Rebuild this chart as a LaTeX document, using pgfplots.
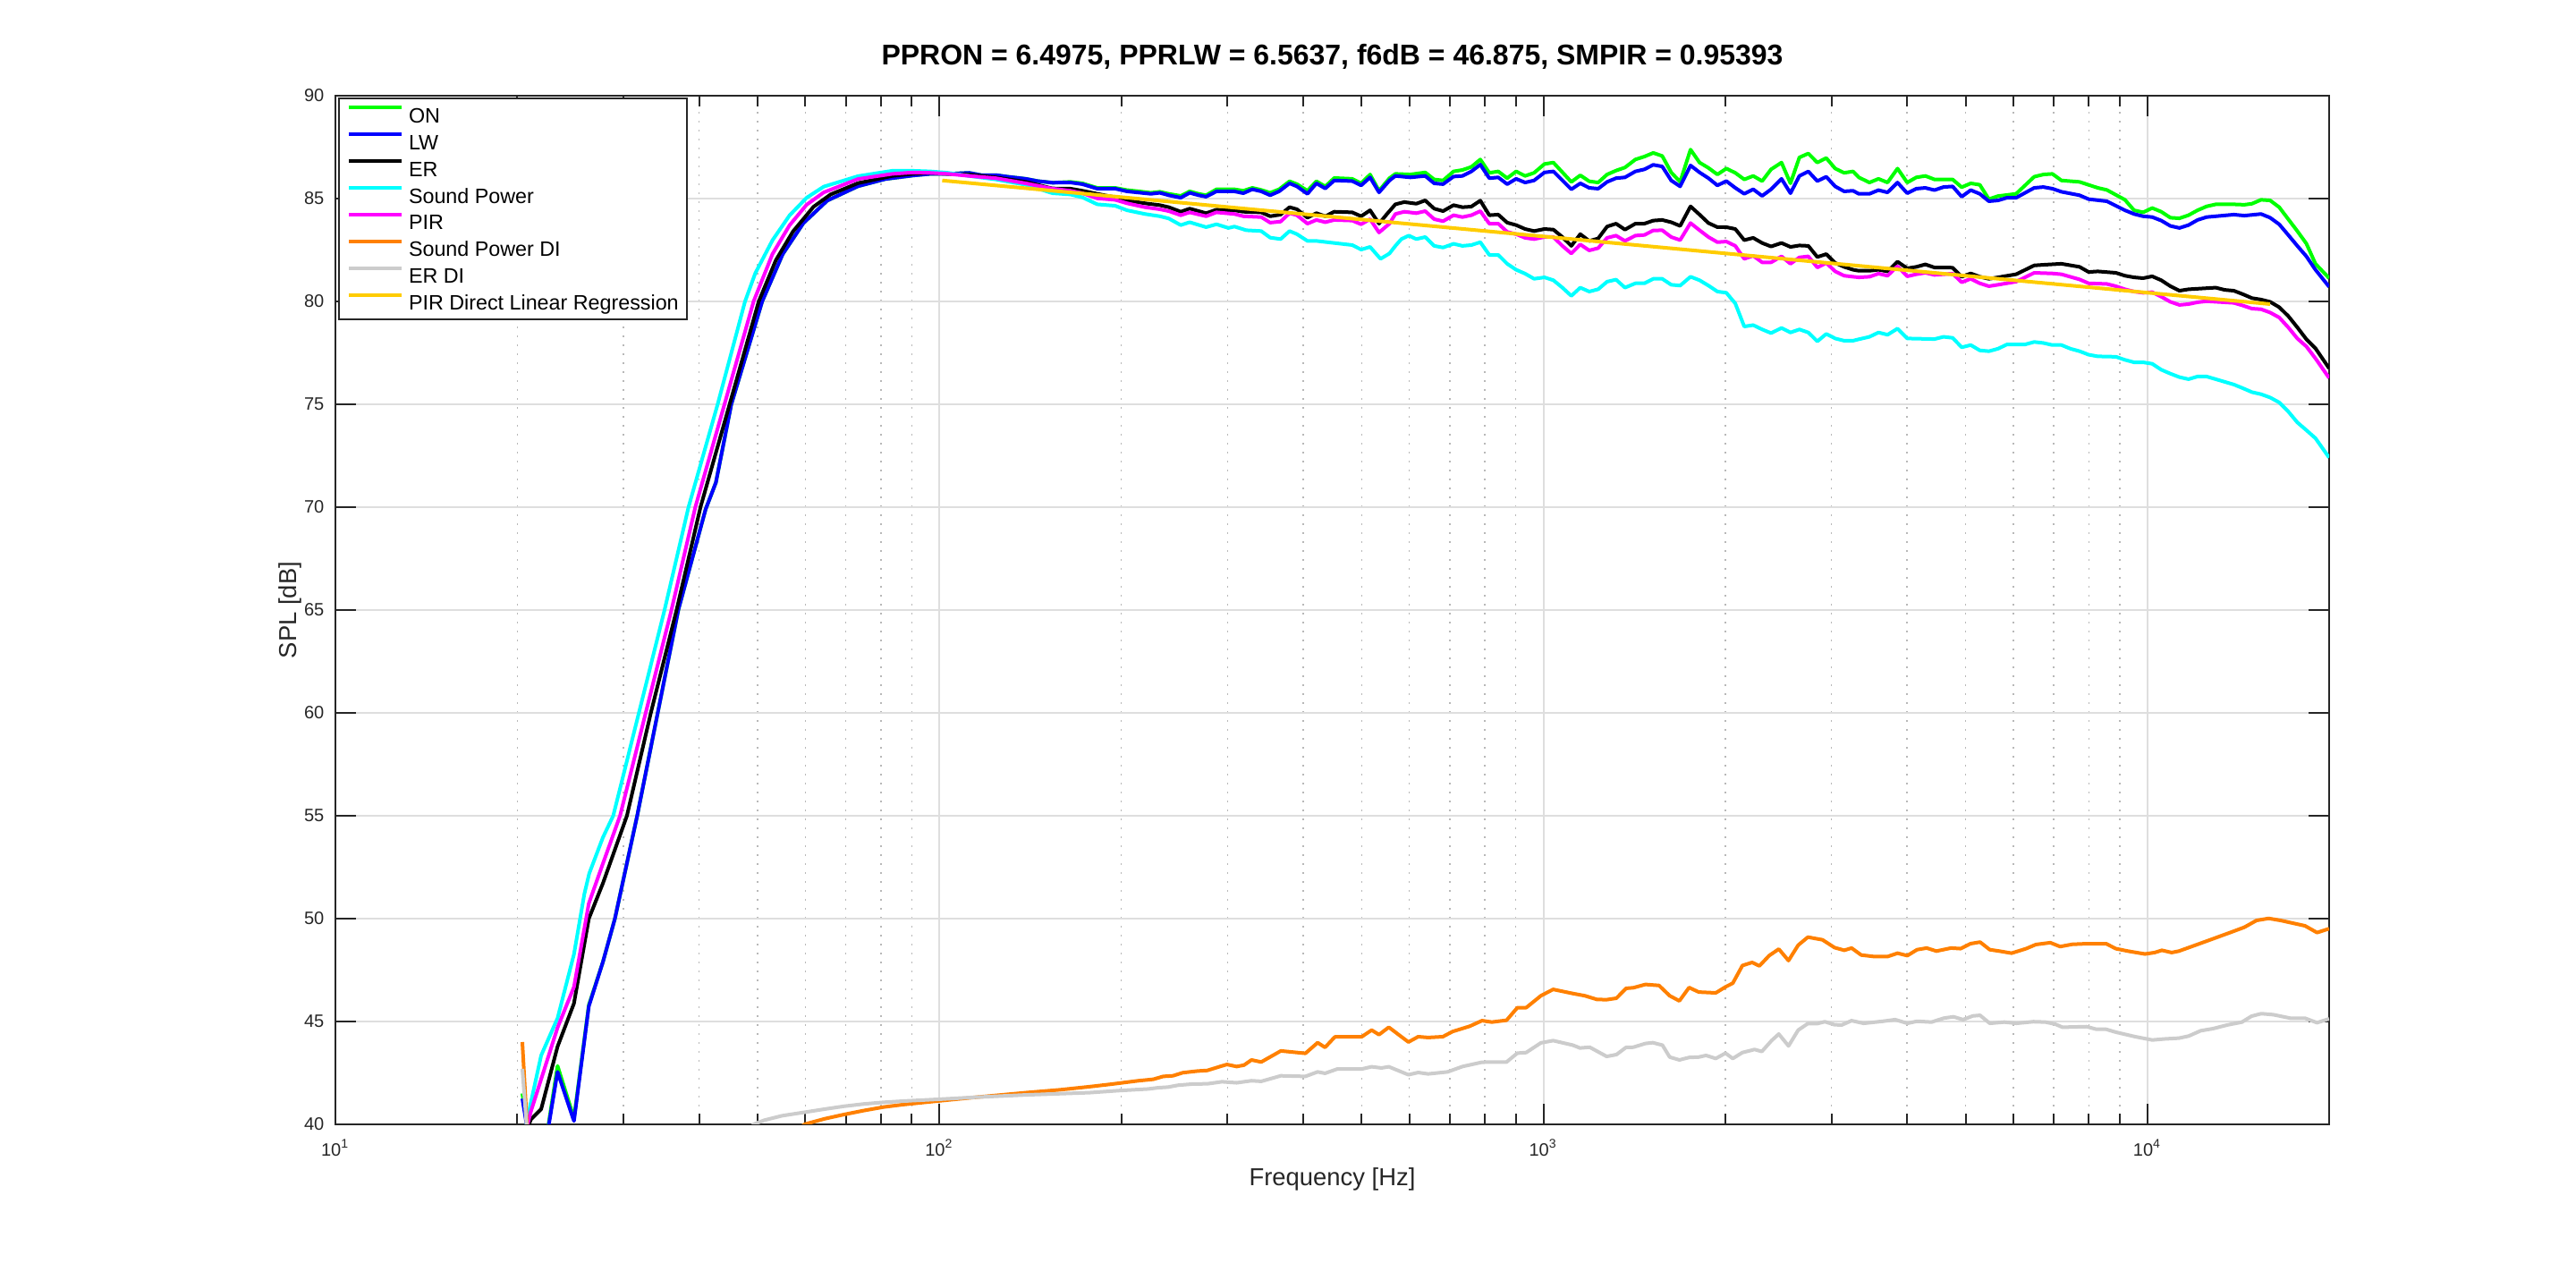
\documentclass[border=0pt]{standalone}
\usepackage{pgfplots}
\pgfplotsset{compat=1.18}
\usepackage{pgfplotstable}
\usepackage{fontspec}
\setmainfont{Liberation Sans}
\definecolor{cON}{rgb}{0,1,0}
\definecolor{cLW}{rgb}{0,0,1}
\definecolor{cER}{rgb}{0,0,0}
\definecolor{cSP}{rgb}{0,1,1}
\definecolor{cPIR}{rgb}{1,0,1}
\definecolor{cSPDI}{rgb}{1,0.5,0}
\definecolor{cERDI}{rgb}{0.8,0.8,0.8}
\definecolor{cREG}{rgb}{1,0.8,0}
\definecolor{gridmaj}{rgb}{0.87,0.87,0.87}
\definecolor{gridmin}{rgb}{0.72,0.72,0.72}
\definecolor{axcol}{rgb}{0.15,0.15,0.15}

% columns: L = log10(frequency in Hz), v = SPL in dB
\pgfplotstableread[row sep=\\]{
L v\\
1.3095 41.5\\ 1.3250 38.5\\ 1.3450 38.5\\ 1.3678 42.84\\ 1.3950 40.3\\ 1.4196 45.8\\ 1.4430 47.9\\ 1.4628 50.0\\
1.4997 55.0\\ 1.5337 60.0\\ 1.5677 65.0\\ 1.6130 69.9\\ 1.6300 71.2\\ 1.6555 75.0\\ 1.7066 80.0\\ 1.7406 82.3\\
1.7746 83.8\\ 1.8143 84.9\\ 1.8653 85.6\\ 1.9106 85.95\\ 1.9560 86.12\\
1.9849 86.20\\ 2.0145 86.20\\ 2.0491 86.25\\ 2.0688 86.14\\ 2.0935 86.14\\ 2.1133 86.06\\ 2.1429 85.96\\ 2.1626 85.85\\
2.1873 85.77\\ 2.2169 85.81\\ 2.2367 85.74\\ 2.2614 85.52\\ 2.2910 85.52\\ 2.3107 85.41\\ 2.3305 85.35\\ 2.3502 85.28\\
2.3650 85.33\\ 2.3798 85.23\\ 2.3996 85.13\\ 2.4144 85.35\\ 2.4292 85.23\\ 2.4416 85.16\\ 2.4588 85.45\\ 2.4885 85.45\\
2.5033 85.38\\ 2.5181 85.52\\ 2.5329 85.42\\ 2.5477 85.28\\ 2.5625 85.45\\ 2.5798 85.84\\ 2.5921 85.70\\ 2.6094 85.38\\
2.6242 85.84\\ 2.6390 85.59\\ 2.6538 86.00\\ 2.6835 85.96\\ 2.6983 85.74\\ 2.7131 86.17\\ 2.7279 85.38\\ 2.7452 85.99\\
2.7550 86.20\\ 2.7797 86.17\\ 2.8044 86.27\\ 2.8192 85.93\\ 2.8340 85.88\\ 2.8513 86.32\\ 2.8661 86.39\\ 2.8809 86.54\\
2.8957 86.90\\ 2.9105 86.25\\ 2.9253 86.32\\ 2.9401 85.99\\ 2.9549 86.32\\ 2.9698 86.10\\ 2.9846 86.25\\ 3.0018 86.68\\
3.0166 86.75\\ 3.0463 85.81\\ 3.0611 86.13\\ 3.0759 85.84\\ 3.0907 85.78\\ 3.1055 86.17\\ 3.1203 86.36\\ 3.1351 86.51\\
3.1524 86.90\\ 3.1672 87.04\\ 3.1820 87.22\\ 3.1968 87.07\\ 3.2117 86.27\\ 3.2265 85.81\\ 3.2437 87.38\\ 3.2586 86.75\\
3.2734 86.49\\ 3.2882 86.17\\ 3.3030 86.46\\ 3.3178 86.25\\ 3.3326 85.93\\ 3.3474 86.10\\ 3.3622 85.85\\ 3.3770 86.42\\
3.3943 86.75\\ 3.4091 85.74\\ 3.4239 87.00\\ 3.4387 87.19\\ 3.4536 86.75\\ 3.4684 86.97\\ 3.4832 86.46\\ 3.4980 86.25\\
3.5128 86.32\\ 3.5223 86.03\\ 3.5399 85.78\\ 3.5549 85.96\\ 3.5699 85.78\\ 3.5864 86.46\\ 3.6024 85.78\\ 3.6175 86.03\\
3.6325 86.10\\ 3.6475 85.93\\ 3.6776 85.93\\ 3.6926 85.55\\ 3.7076 85.74\\ 3.7226 85.67\\ 3.7376 84.97\\ 3.7527 85.12\\
3.7827 85.23\\ 3.8127 86.06\\ 3.8278 86.17\\ 3.8428 86.20\\ 3.8578 85.88\\ 3.8878 85.81\\ 3.9179 85.52\\ 3.9329 85.42\\
3.9629 84.94\\ 3.9780 84.43\\ 3.9930 84.33\\ 4.0080 84.54\\ 4.0230 84.36\\ 4.0381 84.07\\ 4.0531 84.04\\ 4.0681 84.19\\
4.0831 84.43\\ 4.0981 84.62\\ 4.1132 84.72\\ 4.1432 84.72\\ 4.1607 84.70\\ 4.1732 84.75\\ 4.1883 84.94\\ 4.2033 84.91\\
4.2183 84.58\\ 4.2333 84.00\\ 4.2483 83.42\\ 4.2634 82.81\\ 4.2784 81.83\\ 4.3010 81.13\\
}\tON

\pgfplotstableread[row sep=\\]{
L v\\
1.3095 41.25\\ 1.3250 38.5\\ 1.3450 38.5\\ 1.3678 42.55\\ 1.3950 40.16\\ 1.4196 45.74\\ 1.4430 47.9\\ 1.4628 50.0\\
1.4997 55.0\\ 1.5337 60.0\\ 1.5677 65.0\\ 1.6130 69.9\\ 1.6300 71.2\\ 1.6555 75.0\\ 1.7066 80.0\\ 1.7406 82.3\\
1.7746 83.8\\ 1.8143 84.9\\ 1.8653 85.6\\ 1.9106 85.95\\ 1.9560 86.12\\
1.9849 86.20\\ 2.0145 86.20\\ 2.0491 86.25\\ 2.0688 86.14\\ 2.0935 86.14\\ 2.1133 86.06\\ 2.1429 85.96\\ 2.1626 85.85\\
2.1873 85.77\\ 2.2169 85.78\\ 2.2367 85.70\\ 2.2614 85.48\\ 2.2910 85.48\\ 2.3107 85.35\\ 2.3305 85.29\\ 2.3502 85.23\\
2.3650 85.28\\ 2.3798 85.16\\ 2.3996 85.04\\ 2.4144 85.28\\ 2.4292 85.16\\ 2.4416 85.09\\ 2.4588 85.35\\ 2.4885 85.35\\
2.5033 85.26\\ 2.5181 85.45\\ 2.5329 85.35\\ 2.5477 85.16\\ 2.5625 85.35\\ 2.5798 85.74\\ 2.5921 85.59\\ 2.6094 85.23\\
2.6242 85.74\\ 2.6390 85.49\\ 2.6538 85.88\\ 2.6835 85.85\\ 2.6983 85.64\\ 2.7131 86.03\\ 2.7279 85.30\\ 2.7452 85.88\\
2.7550 86.10\\ 2.7797 86.03\\ 2.8044 86.10\\ 2.8192 85.74\\ 2.8340 85.70\\ 2.8513 86.07\\ 2.8661 86.10\\ 2.8809 86.32\\
2.8957 86.65\\ 2.9105 85.99\\ 2.9253 86.03\\ 2.9401 85.70\\ 2.9549 85.96\\ 2.9698 85.78\\ 2.9846 85.88\\ 3.0018 86.27\\
3.0166 86.32\\ 3.0463 85.45\\ 3.0611 85.74\\ 3.0759 85.52\\ 3.0907 85.48\\ 3.1055 85.81\\ 3.1203 85.99\\ 3.1351 86.03\\
3.1524 86.32\\ 3.1672 86.42\\ 3.1820 86.64\\ 3.1968 86.56\\ 3.2117 85.88\\ 3.2265 85.59\\ 3.2437 86.61\\ 3.2586 86.27\\
3.2734 85.99\\ 3.2882 85.64\\ 3.3030 85.85\\ 3.3178 85.52\\ 3.3326 85.23\\ 3.3474 85.45\\ 3.3622 85.13\\ 3.3770 85.45\\
3.3943 85.96\\ 3.4091 85.26\\ 3.4239 86.10\\ 3.4387 86.32\\ 3.4536 85.85\\ 3.4684 86.06\\ 3.4832 85.59\\ 3.4980 85.35\\
3.5128 85.38\\ 3.5223 85.23\\ 3.5399 85.23\\ 3.5549 85.41\\ 3.5699 85.30\\ 3.5864 85.78\\ 3.6024 85.26\\ 3.6175 85.48\\
3.6325 85.52\\ 3.6475 85.41\\ 3.6625 85.56\\ 3.6776 85.59\\ 3.6926 85.09\\ 3.7076 85.41\\ 3.7226 85.23\\ 3.7376 84.87\\
3.7527 84.91\\ 3.7677 85.04\\ 3.7827 85.04\\ 3.8127 85.52\\ 3.8278 85.56\\ 3.8428 85.48\\ 3.8578 85.33\\ 3.8878 85.16\\
3.9029 84.97\\ 3.9329 84.87\\ 3.9629 84.43\\ 3.9780 84.25\\ 3.9930 84.14\\ 4.0080 84.10\\ 4.0230 83.93\\ 4.0381 83.67\\
4.0531 83.57\\ 4.0681 83.71\\ 4.0831 83.96\\ 4.0981 84.10\\ 4.1132 84.14\\ 4.1432 84.22\\ 4.1607 84.17\\ 4.1883 84.25\\
4.2033 84.07\\ 4.2183 83.75\\ 4.2333 83.23\\ 4.2483 82.70\\ 4.2634 82.19\\ 4.2784 81.54\\ 4.3010 80.71\\
}\tLW

\pgfplotstableread[row sep=\\]{
L v\\
1.3095 39.0\\ 1.3234 40.23\\ 1.3407 40.74\\ 1.3678 43.78\\ 1.3950 45.88\\ 1.4196 50.0\\ 1.4430 51.72\\ 1.4827 55.0\\
1.5223 60.0\\ 1.5649 65.0\\ 1.6045 70.0\\ 1.6527 75.0\\ 1.7009 80.0\\ 1.7292 82.0\\ 1.7576 83.4\\ 1.7916 84.6\\
1.8199 85.2\\ 1.8653 85.75\\ 1.9219 86.1\\ 1.9560 86.2\\
1.9849 86.25\\ 2.0145 86.20\\ 2.0491 86.17\\ 2.0935 86.03\\ 2.1429 85.81\\ 2.1873 85.49\\ 2.2169 85.48\\ 2.2367 85.38\\
2.2614 85.23\\ 2.2910 85.06\\ 2.3107 84.91\\ 2.3403 84.77\\ 2.3650 84.68\\ 2.3798 84.58\\ 2.3996 84.36\\ 2.4144 84.51\\
2.4416 84.29\\ 2.4588 84.46\\ 2.4885 84.43\\ 2.5033 84.36\\ 2.5329 84.33\\ 2.5477 84.14\\ 2.5650 84.22\\ 2.5798 84.58\\
2.5921 84.48\\ 2.6094 84.07\\ 2.6242 84.29\\ 2.6390 84.14\\ 2.6538 84.36\\ 2.6835 84.33\\ 2.6983 84.14\\ 2.7131 84.43\\
2.7279 83.78\\ 2.7402 84.22\\
2.7550 84.72\\ 2.7698 84.83\\ 2.7896 84.75\\ 2.8044 84.91\\ 2.8192 84.51\\ 2.8340 84.39\\ 2.8513 84.68\\ 2.8661 84.58\\
2.8809 84.61\\ 2.8957 84.90\\ 2.9105 84.19\\ 2.9253 84.22\\ 2.9401 83.83\\ 2.9549 83.71\\ 2.9698 83.52\\ 2.9846 83.42\\
3.0018 83.52\\ 3.0166 83.49\\ 3.0315 83.13\\ 3.0463 82.70\\ 3.0611 83.27\\ 3.0759 82.94\\ 3.0907 83.06\\ 3.1055 83.64\\
3.1203 83.78\\ 3.1351 83.49\\ 3.1524 83.78\\ 3.1672 83.78\\ 3.1820 83.93\\ 3.1968 83.96\\ 3.2117 83.85\\ 3.2265 83.67\\
3.2437 84.62\\ 3.2586 84.22\\ 3.2734 83.81\\ 3.2882 83.61\\ 3.3030 83.61\\ 3.3178 83.52\\ 3.3326 82.98\\ 3.3474 83.09\\
3.3622 82.84\\ 3.3770 82.67\\ 3.3943 82.84\\ 3.4091 82.65\\ 3.4239 82.72\\ 3.4387 82.70\\ 3.4536 82.16\\ 3.4684 82.30\\
3.4832 81.87\\ 3.4980 81.68\\ 3.5128 81.54\\
3.5223 81.49\\ 3.5399 81.49\\ 3.5549 81.54\\ 3.5699 81.46\\ 3.5864 81.93\\ 3.6024 81.61\\ 3.6175 81.68\\ 3.6325 81.80\\
3.6475 81.65\\ 3.6776 81.64\\ 3.6926 81.20\\ 3.7076 81.36\\ 3.7226 81.20\\ 3.7376 81.10\\ 3.7527 81.17\\ 3.7827 81.32\\
3.8127 81.75\\ 3.8278 81.78\\ 3.8578 81.83\\ 3.8878 81.68\\ 3.9029 81.43\\ 3.9179 81.46\\ 3.9479 81.39\\ 3.9629 81.25\\
3.9780 81.17\\ 3.9930 81.13\\ 4.0080 81.22\\ 4.0230 81.03\\ 4.0381 80.74\\ 4.0531 80.52\\ 4.0681 80.59\\ 4.1132 80.67\\
4.1282 80.56\\ 4.1432 80.52\\ 4.1582 80.35\\ 4.1732 80.16\\ 4.1883 80.09\\ 4.2033 79.98\\ 4.2183 79.72\\ 4.2333 79.29\\
4.2483 78.74\\ 4.2634 78.16\\ 4.2784 77.72\\ 4.3010 76.75\\
}\tER

\pgfplotstableread[row sep=\\]{
L v\\
1.3095 39.0\\ 1.3234 41.03\\ 1.3407 43.35\\ 1.3678 45.16\\ 1.3950 48.27\\ 1.4122 51.2\\ 1.4203 52.2\\ 1.4430 53.95\\
1.4600 55.0\\ 1.5025 60.0\\ 1.5450 65.0\\ 1.5847 70.0\\ 1.6329 75.0\\ 1.6782 80.0\\ 1.6952 81.37\\ 1.7236 82.97\\
1.7519 84.18\\ 1.7802 85.04\\ 1.8086 85.58\\ 1.8653 86.09\\ 1.9219 86.35\\ 1.9560 86.35\\
1.9849 86.32\\ 2.0145 86.25\\ 2.0491 86.10\\ 2.0935 85.93\\ 2.1429 85.67\\ 2.1873 85.26\\ 2.2169 85.20\\ 2.2367 85.06\\
2.2614 84.72\\ 2.2910 84.65\\ 2.3107 84.43\\ 2.3403 84.25\\ 2.3650 84.14\\ 2.3798 84.03\\ 2.3996 83.71\\ 2.4144 83.85\\
2.4416 83.61\\ 2.4588 83.75\\ 2.4786 83.57\\ 2.4885 83.64\\ 2.5082 83.46\\ 2.5329 83.42\\ 2.5477 83.10\\ 2.5650 83.03\\
2.5798 83.42\\ 2.5921 83.27\\ 2.6094 82.94\\ 2.6242 82.94\\ 2.6538 82.84\\ 2.6835 82.74\\ 2.6983 82.52\\ 2.7131 82.65\\
2.7304 82.07\\ 2.7452 82.33\\
2.7550 82.70\\ 2.7649 83.03\\ 2.7772 83.20\\ 2.7896 83.03\\ 2.8044 83.13\\ 2.8192 82.70\\ 2.8340 82.62\\ 2.8513 82.80\\
2.8661 82.70\\ 2.8809 82.74\\ 2.8957 82.88\\ 2.9105 82.26\\ 2.9253 82.26\\ 2.9401 81.83\\ 2.9549 81.54\\ 2.9698 81.35\\
2.9846 81.10\\ 3.0018 81.17\\ 3.0166 81.03\\ 3.0315 80.67\\ 3.0463 80.27\\ 3.0611 80.67\\ 3.0759 80.48\\ 3.0907 80.59\\
3.1055 80.96\\ 3.1203 81.06\\ 3.1351 80.67\\ 3.1524 80.88\\ 3.1672 80.88\\ 3.1820 81.10\\ 3.1968 81.10\\ 3.2117 80.81\\
3.2265 80.77\\ 3.2437 81.20\\ 3.2586 81.03\\ 3.2734 80.77\\ 3.2882 80.48\\ 3.3030 80.42\\ 3.3178 79.90\\ 3.3326 78.78\\
3.3474 78.85\\ 3.3622 78.64\\ 3.3770 78.46\\ 3.3943 78.71\\ 3.4091 78.49\\ 3.4239 78.64\\ 3.4387 78.49\\ 3.4536 78.06\\
3.4684 78.42\\ 3.4832 78.20\\ 3.4980 78.09\\ 3.5128 78.09\\
3.5223 78.16\\ 3.5399 78.28\\ 3.5549 78.49\\ 3.5699 78.38\\ 3.5864 78.68\\ 3.6024 78.20\\ 3.6475 78.17\\ 3.6625 78.28\\
3.6776 78.23\\ 3.6926 77.77\\ 3.7076 77.88\\ 3.7226 77.62\\ 3.7376 77.58\\ 3.7527 77.70\\ 3.7677 77.91\\ 3.7977 77.91\\
3.8127 78.03\\ 3.8278 77.98\\ 3.8428 77.88\\ 3.8578 77.88\\ 3.8728 77.70\\ 3.8878 77.58\\ 3.9029 77.41\\ 3.9179 77.33\\
3.9479 77.31\\ 3.9629 77.16\\ 3.9780 77.04\\ 3.9930 77.04\\ 4.0080 76.97\\ 4.0230 76.68\\ 4.0381 76.49\\ 4.0531 76.32\\
4.0681 76.22\\ 4.0831 76.35\\ 4.0981 76.35\\ 4.1132 76.22\\ 4.1432 75.96\\ 4.1582 75.78\\ 4.1732 75.59\\ 4.1883 75.49\\
4.2033 75.33\\ 4.2183 75.09\\ 4.2333 74.65\\ 4.2483 74.12\\ 4.2634 73.74\\ 4.2784 73.35\\ 4.3010 72.41\\
}\tSP

\pgfplotstableread[row sep=\\]{
L v\\
1.3095 39.0\\ 1.3234 40.6\\ 1.3678 44.7\\ 1.3950 46.68\\ 1.4196 50.74\\ 1.4430 52.68\\ 1.4713 55.0\\ 1.5138 60.0\\
1.5564 65.0\\ 1.5960 70.0\\ 1.6442 75.0\\ 1.6924 80.0\\ 1.7236 82.3\\ 1.7519 83.7\\ 1.7802 84.7\\ 1.8086 85.3\\
1.8653 85.95\\ 1.9219 86.2\\ 1.9560 86.27\\
1.9849 86.25\\ 2.0145 86.20\\ 2.0491 86.10\\ 2.0935 85.99\\ 2.1429 85.74\\ 2.1873 85.48\\ 2.2169 85.38\\ 2.2367 85.26\\
2.2614 85.01\\ 2.2910 84.94\\ 2.3107 84.77\\ 2.3403 84.58\\ 2.3650 84.48\\ 2.3798 84.39\\ 2.3996 84.19\\ 2.4144 84.33\\
2.4416 84.14\\ 2.4588 84.33\\ 2.4885 84.25\\ 2.5033 84.14\\ 2.5329 84.10\\ 2.5477 83.83\\ 2.5650 83.88\\ 2.5798 84.29\\
2.5921 84.19\\ 2.6094 83.78\\ 2.6242 83.96\\ 2.6390 83.85\\ 2.6538 83.96\\ 2.6835 83.93\\ 2.6983 83.75\\ 2.7131 84.00\\
2.7279 83.35\\ 2.7452 83.78\\
2.7550 84.25\\ 2.7698 84.36\\ 2.7896 84.29\\ 2.8044 84.39\\ 2.8192 84.00\\ 2.8340 83.90\\ 2.8513 84.19\\ 2.8661 84.10\\
2.8809 84.19\\ 2.8957 84.39\\ 2.9105 83.78\\ 2.9253 83.78\\ 2.9401 83.38\\ 2.9549 83.27\\ 2.9698 83.09\\ 2.9846 83.03\\
3.0018 83.13\\ 3.0166 83.13\\ 3.0315 82.70\\ 3.0463 82.33\\ 3.0611 82.77\\ 3.0759 82.48\\ 3.0907 82.59\\ 3.1055 83.09\\
3.1203 83.20\\ 3.1351 82.94\\ 3.1524 83.20\\ 3.1672 83.23\\ 3.1820 83.45\\ 3.1968 83.46\\ 3.2117 83.13\\ 3.2265 82.98\\
3.2437 83.81\\ 3.2586 83.46\\ 3.2734 83.13\\ 3.2882 82.88\\ 3.3030 82.91\\ 3.3178 82.70\\ 3.3326 82.07\\ 3.3474 82.22\\
3.3622 81.90\\ 3.3770 81.90\\ 3.3943 82.19\\ 3.4091 81.83\\ 3.4239 82.14\\ 3.4387 82.19\\ 3.4536 81.65\\ 3.4684 81.87\\
3.4832 81.46\\ 3.4980 81.25\\ 3.5128 81.20\\
3.5223 81.17\\ 3.5399 81.20\\ 3.5549 81.35\\ 3.5699 81.25\\ 3.5864 81.71\\ 3.6024 81.22\\ 3.6175 81.32\\ 3.6325 81.39\\
3.6475 81.29\\ 3.6776 81.35\\ 3.6926 80.93\\ 3.7076 81.10\\ 3.7226 80.88\\ 3.7376 80.74\\ 3.7527 80.81\\ 3.7827 80.96\\
3.8127 81.39\\ 3.8428 81.36\\ 3.8578 81.32\\ 3.8878 81.07\\ 3.9029 80.88\\ 3.9329 80.85\\ 3.9479 80.74\\ 3.9629 80.59\\
3.9780 80.48\\ 3.9930 80.42\\ 4.0080 80.45\\ 4.0230 80.23\\ 4.0381 79.98\\ 4.0531 79.83\\ 4.0681 79.87\\ 4.0831 79.96\\
4.0981 80.01\\ 4.1432 79.93\\ 4.1582 79.80\\ 4.1732 79.65\\ 4.1883 79.62\\ 4.2033 79.46\\ 4.2183 79.22\\ 4.2333 78.74\\
4.2483 78.20\\ 4.2634 77.81\\ 4.2784 77.23\\ 4.3010 76.28\\
}\tPIR

\pgfplotstableread[row sep=\\]{
L v\\
1.3095 44.0\\ 1.3190 39.0\\ 1.7000 38.5\\ 1.7775 40.01\\ 1.8100 40.27\\ 1.8425 40.48\\ 1.8750 40.67\\ 1.9075 40.84\\
1.9400 40.96\\ 1.9997 41.14\\ 2.0618 41.32\\ 2.1430 41.54\\ 2.1999 41.68\\ 2.2486 41.83\\ 2.2811 41.94\\ 2.3299 42.12\\
2.3542 42.19\\ 2.3705 42.33\\ 2.3867 42.36\\ 2.4030 42.51\\ 2.4273 42.59\\ 2.4436 42.62\\ 2.4679 42.84\\ 2.4761 42.91\\
2.4923 42.81\\ 2.5045 42.88\\ 2.5167 43.13\\ 2.5329 43.03\\ 2.5654 43.57\\ 2.6060 43.45\\ 2.6263 43.97\\ 2.6385 43.74\\
2.6548 44.25\\ 2.6994 44.26\\ 2.7157 44.58\\ 2.7279 44.36\\ 2.7441 44.72\\ 2.7766 44.00\\ 2.7928 44.26\\ 2.8091 44.22\\
2.8335 44.26\\ 2.8497 44.51\\ 2.8782 44.77\\ 2.8985 45.04\\ 2.9147 44.97\\ 2.9391 45.06\\ 2.9569 45.67\\ 2.9715 45.67\\
2.9959 46.25\\ 3.0162 46.56\\ 3.0486 46.36\\ 3.0687 46.25\\ 3.0887 46.07\\ 3.1048 46.06\\ 3.1209 46.13\\ 3.1369 46.61\\
3.1490 46.64\\ 3.1690 46.80\\ 3.1915 46.75\\ 3.2092 46.25\\ 3.2252 46.00\\ 3.2413 46.65\\ 3.2573 46.43\\ 3.2855 46.39\\
3.3015 46.68\\ 3.3136 46.86\\ 3.3296 47.72\\ 3.3457 47.87\\ 3.3577 47.70\\ 3.3738 48.20\\ 3.3898 48.52\\ 3.4059 47.96\\
3.4219 48.71\\ 3.4380 49.10\\ 3.4621 48.97\\ 3.4822 48.59\\ 3.4982 48.46\\ 3.5103 48.57\\ 3.5263 48.23\\ 3.5464 48.16\\
3.5705 48.16\\ 3.5865 48.32\\ 3.6026 48.20\\ 3.6187 48.49\\ 3.6347 48.57\\ 3.6508 48.42\\ 3.6749 48.57\\ 3.6909 48.54\\
3.7070 48.78\\ 3.7230 48.86\\ 3.7391 48.49\\ 3.7551 48.42\\ 3.7752 48.32\\ 3.7993 48.54\\ 3.8154 48.74\\ 3.8394 48.83\\
3.8555 48.64\\ 3.8756 48.75\\ 3.8997 48.78\\ 3.9318 48.78\\ 3.9478 48.54\\ 3.9679 48.42\\ 3.9960 48.28\\ 4.0121 48.35\\
4.0241 48.46\\ 4.0402 48.35\\ 4.0522 48.42\\ 4.0683 48.59\\ 4.1004 48.93\\ 4.1405 49.36\\ 4.1606 49.58\\ 4.1807 49.91\\
4.2008 50.01\\ 4.2208 49.91\\ 4.2610 49.65\\ 4.2810 49.32\\ 4.3010 49.51\\
}\tSPDI

\pgfplotstableread[row sep=\\]{
L v\\
1.3095 42.7\\ 1.3190 39.0\\ 1.6500 38.5\\ 1.6924 40.0\\ 1.7100 40.2\\ 1.7400 40.42\\ 1.7775 40.59\\ 1.8100 40.74\\
1.8425 40.88\\ 1.8750 40.99\\ 1.9075 41.07\\ 1.9400 41.13\\ 1.9997 41.22\\ 2.0618 41.32\\ 2.1430 41.43\\ 2.2486 41.54\\
2.2974 41.64\\ 2.3461 41.72\\ 2.3624 41.78\\ 2.3786 41.81\\ 2.3948 41.90\\ 2.4192 41.96\\ 2.4436 41.97\\ 2.4679 42.07\\
2.4923 42.02\\ 2.5167 42.12\\ 2.5329 42.09\\ 2.5654 42.36\\ 2.6060 42.33\\ 2.6263 42.55\\ 2.6385 42.48\\ 2.6588 42.69\\
2.6994 42.69\\ 2.7157 42.80\\ 2.7319 42.74\\ 2.7441 42.80\\ 2.7766 42.41\\ 2.7928 42.52\\ 2.8091 42.45\\ 2.8416 42.55\\
2.8660 42.81\\ 2.8985 43.02\\ 2.9391 43.03\\ 2.9569 43.46\\ 2.9715 43.49\\ 2.9959 43.96\\ 3.0162 44.07\\ 3.0486 43.85\\
3.0606 43.71\\ 3.0767 43.75\\ 3.1048 43.30\\ 3.1209 43.39\\ 3.1369 43.74\\ 3.1490 43.75\\ 3.1690 43.93\\ 3.1811 43.97\\
3.1971 43.85\\ 3.2092 43.27\\ 3.2252 43.13\\ 3.2413 43.25\\ 3.2573 43.27\\ 3.2694 43.35\\ 3.2855 43.20\\ 3.3015 43.46\\
3.3136 43.20\\ 3.3296 43.49\\ 3.3497 43.64\\ 3.3617 43.54\\ 3.3778 44.07\\ 3.3898 44.39\\ 3.4059 43.81\\ 3.4219 44.58\\
3.4380 44.90\\ 3.4541 44.90\\ 3.4661 44.99\\ 3.4822 44.84\\ 3.4942 44.83\\ 3.5103 45.04\\ 3.5303 44.91\\ 3.5624 45.01\\
3.5825 45.09\\ 3.6026 44.91\\ 3.6187 45.01\\ 3.6427 44.97\\ 3.6628 45.16\\ 3.6789 45.23\\ 3.6949 45.09\\ 3.7110 45.27\\
3.7230 45.30\\ 3.7391 44.91\\ 3.7632 44.97\\ 3.7833 44.91\\ 3.8113 44.99\\ 3.8314 44.97\\ 3.8475 44.87\\ 3.8595 44.72\\
3.8997 44.75\\ 3.9157 44.62\\ 3.9318 44.62\\ 3.9478 44.48\\ 3.9800 44.26\\ 4.0081 44.10\\ 4.0281 44.15\\ 4.0522 44.19\\
4.0683 44.29\\ 4.0883 44.55\\ 4.1084 44.65\\ 4.1325 44.83\\ 4.1566 44.97\\ 4.1726 45.26\\ 4.1887 45.38\\ 4.2087 45.33\\
4.2368 45.16\\ 4.2610 45.16\\ 4.2810 44.94\\ 4.3010 45.13\\
}\tERDI

\pgfplotstableread[row sep=\\]{
L v\\
2.0047 85.88\\ 4.2033 79.87\\
}\tREG

\begin{document}
\begin{tikzpicture}
\path[use as bounding box] (0,0) rectangle (28.8cm,14.12cm);
\begin{axis}[
  at={(3.75cm,1.55cm)}, anchor=south west,
  scale only axis, width=22.29cm, height=11.5cm,
  xmode=log, log basis x=10,
  xmin=10, xmax=20000, ymin=40, ymax=90,
  xtick={10,100,1000,10000},
  xticklabels={10\textsuperscript{1},10\textsuperscript{2},10\textsuperscript{3},10\textsuperscript{4}},
  minor xtick={20,30,40,50,60,70,80,90,200,300,400,500,600,700,800,900,2000,3000,4000,5000,6000,7000,8000,9000},
  ytick={40,45,...,90},
  /pgf/number format/assume math mode=true,
  xmajorgrids, ymajorgrids, xminorgrids,
  major grid style={draw=gridmaj, line width=0.02cm},
  minor grid style={draw=gridmin, line width=0.015cm, dash pattern=on 0.02cm off 0.08cm},
  tick align=inside,
  major tick length=0.23cm, minor tick length=0.12cm,
  tick style={draw=axcol, line width=0.02cm},
  axis line style={draw=axcol, line width=0.025cm},
  tick label style={font=\fontsize{5.7pt}{6pt}\selectfont, text=axcol},
  xticklabel style={inner sep=0pt, anchor=north, yshift=-0.16cm},
  yticklabel style={inner sep=0pt, anchor=east, xshift=-0.12cm},
  xlabel={Frequency [Hz]},
  ylabel={SPL [dB]},
  label style={font=\fontsize{7.8pt}{8.5pt}\selectfont, text=axcol, inner sep=0pt},
  xlabel style={at={(axis description cs:0.5,0)}, anchor=base, yshift=-0.69cm},
  ylabel style={at={(axis description cs:-0.0193,0.5)}, anchor=base, rotate=0},
  title={PPRON = 6.4975, PPRLW = 6.5637, f6dB = 46.875, SMPIR = 0.95393},
  title style={font=\bfseries\fontsize{9.1pt}{10pt}\selectfont, at={(axis description cs:0.5,1)}, anchor=base, yshift=0.13cm, inner sep=0pt},
  legend cell align=left,
  legend style={
    at={(rel axis cs:0,1)}, anchor=north west, xshift=0.03cm, yshift=-0.02cm,
    draw=axcol, line width=0.02cm, fill=white,
    inner xsep=0.09cm, inner ysep=0.082cm,
    font=\fontsize{6.63pt}{7pt}\selectfont,
    nodes={inner sep=0pt, text height=0.19cm, text depth=0.02cm},
    row sep=0.0894cm,
    /tikz/every odd column/.append style={column sep=0.06cm},
  },
  legend image code/.code={\draw[#1] (0cm,0.085cm) -- (0.59cm,0.085cm);},
  every axis plot/.append style={no markers, line width=0.04cm, line join=round},
]
\addplot[color=cON] table[x expr={10^(\thisrow{L})}, y=v] {\tON};
\addlegendentry{ON}
\addplot[color=cLW] table[x expr={10^(\thisrow{L})}, y=v] {\tLW};
\addlegendentry{LW}
\addplot[color=cER] table[x expr={10^(\thisrow{L})}, y=v] {\tER};
\addlegendentry{ER}
\addplot[color=cSP] table[x expr={10^(\thisrow{L})}, y=v] {\tSP};
\addlegendentry{Sound Power}
\addplot[color=cPIR] table[x expr={10^(\thisrow{L})}, y=v] {\tPIR};
\addlegendentry{PIR}
\addplot[color=cSPDI] table[x expr={10^(\thisrow{L})}, y=v] {\tSPDI};
\addlegendentry{Sound Power DI}
\addplot[color=cERDI] table[x expr={10^(\thisrow{L})}, y=v] {\tERDI};
\addlegendentry{ER DI}
\addplot[color=cREG] table[x expr={10^(\thisrow{L})}, y=v] {\tREG};
\addlegendentry{PIR Direct Linear Regression}
\end{axis}
\end{tikzpicture}
\end{document}
